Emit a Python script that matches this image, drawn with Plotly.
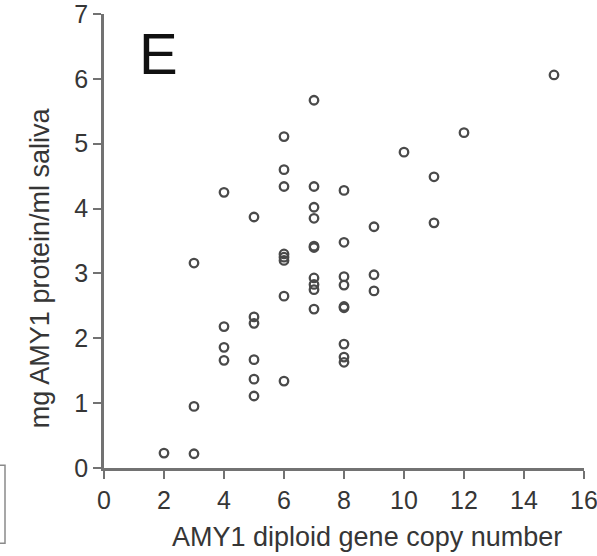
import plotly.graph_objects as go

# AMY1 diploid gene copy number (x) and salivary amylase protein (y)
copy_number = [2,
               3, 3, 3,
               4, 4, 4, 4,
               5, 5, 5, 5, 5, 5,
               6, 6, 6, 6, 6, 6, 6, 6,
               7, 7, 7, 7, 7, 7, 7, 7, 7, 7,
               8, 8, 8, 8, 8, 8, 8, 8, 8,
               9, 9, 9,
               10,
               11, 11,
               12,
               15]
protein_mg_ml = [0.23,
                 0.22, 0.95, 3.16,
                 4.25, 2.18, 1.86, 1.66,
                 3.87, 2.33, 2.23, 1.67, 1.37, 1.11,
                 5.11, 4.60, 4.34, 3.30, 3.25, 3.20, 2.65, 1.34,
                 5.67, 4.34, 4.02, 3.85, 3.42, 3.40, 2.93, 2.83, 2.75, 2.45,
                 4.28, 3.48, 2.95, 2.82, 2.49, 2.47, 1.91, 1.71, 1.63,
                 3.72, 2.98, 2.73,
                 4.87,
                 4.49, 3.78,
                 5.17,
                 6.06]

x_ticks = [0, 2, 4, 6, 8, 10, 12, 14, 16]
y_ticks = [0, 1, 2, 3, 4, 5, 6, 7]

FONT = "Liberation Sans, Arial, sans-serif"
TXT = "#363636"
AX = "#727272"

fig = go.Figure()
fig.add_trace(go.Scatter(
    x=copy_number, y=protein_mg_ml, mode="markers",
    marker=dict(symbol="circle-open", size=8.5, color="#4a4a4a",
                line=dict(width=2.3, color="#4a4a4a")),
    showlegend=False, hoverinfo="x+y", cliponaxis=False))

axis_common = dict(ticks="outside", ticklen=8, tickwidth=2, tickcolor=AX,
                   showline=True, linecolor=AX, linewidth=2.5, showgrid=False,
                   zeroline=False, automargin=False, ticklabeloverflow="allow",
                   tickfont=dict(size=25, color=TXT, family=FONT))

fig.update_layout(
    width=597, height=556,
    margin=dict(l=104, r=13, t=14, b=88),
    paper_bgcolor="white", plot_bgcolor="white",
    font=dict(family=FONT, color=TXT),
    xaxis=dict(range=[0, 16], tickvals=x_ticks, **axis_common),
    yaxis=dict(range=[0, 7], tickvals=y_ticks, **axis_common),
    annotations=[
        dict(text="AMY1 diploid gene copy number", xref="paper", yref="paper",
             x=(367 - 104) / 480, y=(467.7 - 537) / 453.7, xanchor="center",
             yanchor="middle", showarrow=False,
             font=dict(size=27, color=TXT, family=FONT)),
        dict(text="mg AMY1 protein/ml saliva", xref="paper", yref="paper",
             x=(40 - 104) / 480, y=(467.7 - 268) / 453.7, xanchor="center",
             yanchor="middle", textangle=-90, showarrow=False,
             font=dict(size=27, color=TXT, family=FONT)),
        dict(text="E", xref="paper", yref="paper",
             x=(137 - 104) / 480, y=(467.7 - 53) / 453.7, xanchor="left",
             yanchor="middle", showarrow=False,
             font=dict(size=58, color="#111111", family=FONT)),
    ],
    shapes=[
        dict(type="rect", xref="paper", yref="paper",
             x0=(-6 - 104) / 480, x1=(5 - 104) / 480,
             y0=(467.7 - 543) / 453.7, y1=(467.7 - 465) / 453.7,
             line=dict(color="#8a8a8a", width=1.5)),
    ],
)

fig.write_html("out.html", config={"displayModeBar": False},
               post_script="document.body.style.margin='0px';"
                           "document.body.style.overflow='hidden';")
